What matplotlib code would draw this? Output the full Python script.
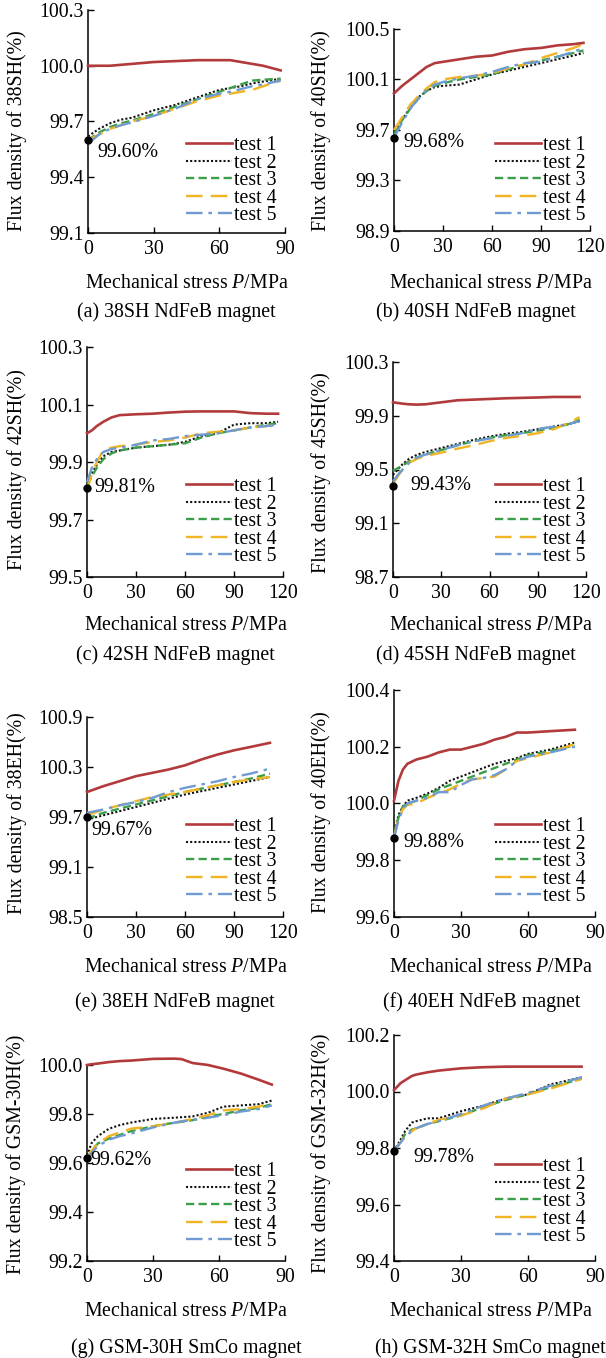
#!/usr/bin/env python3
"""Flux density vs mechanical stress for eight magnet grades."""
import matplotlib
matplotlib.use("Agg")
import matplotlib.pyplot as plt

plt.rcParams["font.family"] = ["Liberation Serif", "DejaVu Serif"]
plt.rcParams["mathtext.fontset"] = "custom"
plt.rcParams["mathtext.rm"] = "Liberation Serif"
plt.rcParams["mathtext.it"] = "Liberation Serif:italic"

test_labels = ["test 1", "test 2", "test 3", "test 4", "test 5"]
test_colors = ["#b23a3c", "#111111", "#3c9e48", "#f0b424", "#6f9bd2"]
test_styles = ["-", (0, (1, 1)), (0, (3.5, 1.8)), (0, (7, 3.5)), (0, (7, 2.5, 1.5, 2.5))]
test_widths = [1.9, 1.5, 1.7, 1.7, 1.7]

# (a) 38SH
x_38sh = [0, 5, 10, 15, 20, 30, 40, 50, 60, 65, 70, 75, 80, 88]
y_38sh_t1 = [100.0, 100.0, 100.0, 100.005, 100.01, 100.02, 100.025, 100.03, 100.03, 100.03, 100.02, 100.01, 100.0, 99.975]
y_38sh_t2 = [99.62, 99.66, 99.69, 99.71, 99.72, 99.76, 99.79, 99.83, 99.87, 99.88, 99.89, 99.905, 99.915, 99.93]
y_38sh_t3 = [99.60, 99.64, 99.67, 99.69, 99.705, 99.74, 99.78, 99.82, 99.86, 99.88, 99.90, 99.92, 99.925, 99.93]
y_38sh_t4 = [99.60, 99.63, 99.66, 99.68, 99.70, 99.73, 99.77, 99.81, 99.84, 99.85, 99.86, 99.87, 99.89, 99.92]
y_38sh_t5 = [99.58, 99.63, 99.66, 99.68, 99.695, 99.73, 99.77, 99.82, 99.85, 99.86, 99.875, 99.89, 99.90, 99.92]

# (b) 40SH
x_40sh = [0, 5, 10, 15, 20, 25, 30, 40, 50, 60, 70, 80, 90, 100, 110, 116]
y_40sh_t1 = [99.99, 100.05, 100.10, 100.15, 100.20, 100.23, 100.24, 100.26, 100.28, 100.29, 100.32, 100.34, 100.35, 100.37, 100.38, 100.39]
y_40sh_t2 = [99.66, 99.78, 99.88, 99.96, 100.01, 100.04, 100.05, 100.06, 100.10, 100.14, 100.17, 100.20, 100.23, 100.26, 100.29, 100.31]
y_40sh_t3 = [99.66, 99.78, 99.87, 99.95, 100.01, 100.05, 100.07, 100.10, 100.12, 100.14, 100.18, 100.22, 100.25, 100.28, 100.31, 100.33]
y_40sh_t4 = [99.70, 99.80, 99.90, 99.97, 100.03, 100.08, 100.10, 100.12, 100.13, 100.15, 100.19, 100.22, 100.27, 100.31, 100.35, 100.38]
y_40sh_t5 = [99.64, 99.76, 99.87, 99.95, 100.02, 100.06, 100.08, 100.11, 100.13, 100.16, 100.20, 100.23, 100.24, 100.28, 100.32, 100.35]

# (c) 42SH
x_42sh = [0, 3, 6, 10, 15, 20, 30, 40, 50, 60, 70, 80, 90, 100, 110, 117]
y_42sh_t1 = [100.0, 100.01, 100.025, 100.04, 100.055, 100.063, 100.066, 100.068, 100.072, 100.075, 100.076, 100.076, 100.076, 100.07, 100.068, 100.068]
y_42sh_t2 = [99.82, 99.86, 99.89, 99.92, 99.935, 99.94, 99.95, 99.955, 99.96, 99.97, 99.99, 100.0, 100.03, 100.035, 100.035, 100.04]
y_42sh_t3 = [99.82, 99.85, 99.88, 99.91, 99.93, 99.94, 99.95, 99.955, 99.96, 99.965, 99.985, 100.0, 100.01, 100.02, 100.03, 100.035]
y_42sh_t4 = [99.80, 99.86, 99.90, 99.94, 99.95, 99.955, 99.96, 99.97, 99.975, 99.985, 100.0, 100.005, 100.01, 100.02, 100.025, 100.03]
y_42sh_t5 = [99.83, 99.88, 99.91, 99.935, 99.945, 99.95, 99.96, 99.975, 99.98, 99.99, 99.995, 100.0, 100.01, 100.02, 100.025, 100.03]

# (d) 45SH
x_45sh = [0, 3, 6, 10, 15, 20, 30, 40, 50, 60, 70, 80, 90, 100, 110, 116]
y_45sh_t1 = [100.0, 99.995, 99.99, 99.985, 99.983, 99.985, 100.0, 100.015, 100.02, 100.025, 100.03, 100.033, 100.036, 100.04, 100.04, 100.04]
y_45sh_t2 = [99.46, 99.50, 99.54, 99.58, 99.61, 99.63, 99.66, 99.69, 99.72, 99.745, 99.765, 99.78, 99.80, 99.82, 99.84, 99.86]
y_45sh_t3 = [99.49, 99.51, 99.53, 99.56, 99.59, 99.61, 99.645, 99.68, 99.71, 99.735, 99.755, 99.77, 99.79, 99.81, 99.84, 99.87]
y_45sh_t4 = [99.39, 99.45, 99.50, 99.55, 99.58, 99.60, 99.625, 99.655, 99.68, 99.71, 99.735, 99.75, 99.77, 99.80, 99.85, 99.89]
y_45sh_t5 = [99.41, 99.46, 99.50, 99.55, 99.59, 99.61, 99.645, 99.68, 99.71, 99.73, 99.75, 99.77, 99.80, 99.82, 99.84, 99.86]

# (e) 38EH
x_38eh = [0, 10, 20, 30, 40, 50, 60, 70, 80, 90, 100, 112]
y_38eh_t1 = [100.0, 100.07, 100.13, 100.19, 100.23, 100.27, 100.32, 100.39, 100.45, 100.50, 100.54, 100.59]
y_38eh_t2 = [99.67, 99.72, 99.77, 99.82, 99.87, 99.92, 99.97, 100.01, 100.05, 100.09, 100.13, 100.18]
y_38eh_t3 = [99.68, 99.75, 99.80, 99.85, 99.90, 99.95, 100.0, 100.04, 100.08, 100.12, 100.16, 100.22]
y_38eh_t4 = [99.72, 99.79, 99.84, 99.89, 99.94, 99.97, 100.0, 100.04, 100.08, 100.12, 100.15, 100.18]
y_38eh_t5 = [99.75, 99.79, 99.84, 99.88, 99.93, 100.0, 100.05, 100.09, 100.13, 100.18, 100.22, 100.28]

# (f) 40EH
x_40eh = [0, 2, 4, 6, 10, 15, 20, 25, 30, 35, 40, 45, 50, 55, 60, 70, 81]
y_40eh_t1 = [100.01, 100.08, 100.12, 100.14, 100.155, 100.165, 100.18, 100.19, 100.19, 100.20, 100.21, 100.225, 100.235, 100.25, 100.25, 100.255, 100.26]
y_40eh_t2 = [99.89, 99.96, 99.99, 100.01, 100.02, 100.035, 100.055, 100.08, 100.095, 100.11, 100.125, 100.14, 100.15, 100.16, 100.175, 100.19, 100.215]
y_40eh_t3 = [99.89, 99.95, 99.99, 100.0, 100.01, 100.03, 100.05, 100.065, 100.08, 100.095, 100.11, 100.125, 100.14, 100.155, 100.17, 100.185, 100.205]
y_40eh_t4 = [99.88, 99.95, 99.98, 99.995, 100.0, 100.02, 100.035, 100.05, 100.07, 100.085, 100.09, 100.095, 100.12, 100.15, 100.16, 100.18, 100.21]
y_40eh_t5 = [99.88, 99.94, 99.98, 100.0, 100.01, 100.02, 100.04, 100.04, 100.065, 100.085, 100.09, 100.10, 100.12, 100.15, 100.165, 100.18, 100.20]

# (g) GSM-30H
x_30h = [0, 2, 5, 10, 15, 20, 30, 40, 43, 48, 55, 62, 70, 78, 84]
y_30h_t1 = [100.0, 100.003, 100.006, 100.012, 100.016, 100.018, 100.025, 100.026, 100.024, 100.008, 100.0, 99.985, 99.965, 99.94, 99.92]
y_30h_t2 = [99.63, 99.68, 99.71, 99.74, 99.755, 99.765, 99.78, 99.785, 99.787, 99.79, 99.805, 99.83, 99.835, 99.84, 99.855]
y_30h_t3 = [99.62, 99.65, 99.68, 99.70, 99.715, 99.73, 99.75, 99.765, 99.768, 99.775, 99.79, 99.80, 99.815, 99.825, 99.84]
y_30h_t4 = [99.62, 99.65, 99.68, 99.71, 99.725, 99.74, 99.75, 99.765, 99.77, 99.78, 99.795, 99.815, 99.82, 99.83, 99.845]
y_30h_t5 = [99.61, 99.64, 99.67, 99.695, 99.71, 99.72, 99.745, 99.765, 99.77, 99.775, 99.785, 99.795, 99.81, 99.82, 99.835]

# (h) GSM-32H
x_32h = [0, 3, 5, 8, 10, 15, 20, 30, 40, 50, 60, 70, 84]
y_32h_t1 = [100.005, 100.03, 100.04, 100.055, 100.06, 100.068, 100.074, 100.082, 100.086, 100.088, 100.088, 100.088, 100.088]
y_32h_t2 = [99.79, 99.83, 99.86, 99.89, 99.895, 99.905, 99.905, 99.93, 99.95, 99.975, 99.99, 100.025, 100.05]
y_32h_t3 = [99.79, 99.82, 99.85, 99.865, 99.87, 99.885, 99.895, 99.915, 99.945, 99.97, 99.99, 100.015, 100.045]
y_32h_t4 = [99.79, 99.82, 99.845, 99.86, 99.87, 99.885, 99.90, 99.915, 99.94, 99.975, 99.99, 100.01, 100.045]
y_32h_t5 = [99.79, 99.82, 99.84, 99.86, 99.87, 99.885, 99.895, 99.92, 99.95, 99.975, 99.995, 100.02, 100.05]

grades = ["38SH", "40SH", "42SH", "45SH", "38EH", "40EH", "GSM-30H", "GSM-32H"]
captions = ["(a) 38SH NdFeB magnet", "(b) 40SH NdFeB magnet", "(c) 42SH NdFeB magnet",
            "(d) 45SH NdFeB magnet", "(e) 38EH NdFeB magnet", "(f) 40EH NdFeB magnet",
            "(g) GSM-30H SmCo magnet", "(h) GSM-32H SmCo magnet"]
start_labels = ["99.60%", "99.68%", "99.81%", "99.43%", "99.67%", "99.88%", "99.62%", "99.78%"]
start_values = [99.60, 99.64, 99.81, 99.38, 99.70, 99.88, 99.62, 99.79]
y_ticks = [
    [99.1, 99.4, 99.7, 100.0, 100.3],
    [98.9, 99.3, 99.7, 100.1, 100.5],
    [99.5, 99.7, 99.9, 100.1, 100.3],
    [98.7, 99.1, 99.5, 99.9, 100.3],
    [98.5, 99.1, 99.7, 100.3, 100.9],
    [99.6, 99.8, 100.0, 100.2, 100.4],
    [99.2, 99.4, 99.6, 99.8, 100.0],
    [99.4, 99.6, 99.8, 100.0, 100.2],
]
x_ticks = [
    [0, 30, 60, 90], [0, 30, 60, 90, 120], [0, 30, 60, 90, 120], [0, 30, 60, 90, 120],
    [0, 30, 60, 90, 120], [0, 30, 60, 90], [0, 30, 60, 90], [0, 30, 60, 90],
]

series = [
    (x_38sh, [y_38sh_t1, y_38sh_t2, y_38sh_t3, y_38sh_t4, y_38sh_t5]),
    (x_40sh, [y_40sh_t1, y_40sh_t2, y_40sh_t3, y_40sh_t4, y_40sh_t5]),
    (x_42sh, [y_42sh_t1, y_42sh_t2, y_42sh_t3, y_42sh_t4, y_42sh_t5]),
    (x_45sh, [y_45sh_t1, y_45sh_t2, y_45sh_t3, y_45sh_t4, y_45sh_t5]),
    (x_38eh, [y_38eh_t1, y_38eh_t2, y_38eh_t3, y_38eh_t4, y_38eh_t5]),
    (x_40eh, [y_40eh_t1, y_40eh_t2, y_40eh_t3, y_40eh_t4, y_40eh_t5]),
    (x_30h, [y_30h_t1, y_30h_t2, y_30h_t3, y_30h_t4, y_30h_t5]),
    (x_32h, [y_32h_t1, y_32h_t2, y_32h_t3, y_32h_t4, y_32h_t5]),
]

# layout in pixels (left, top, right, bottom) of each axes box
W, H = 606, 1358
boxes = [(88, 10, 285, 233), (394, 29, 590, 231), (87, 347, 283, 577), (393, 362, 586, 577),
         (87, 717, 283, 917), (394, 690, 595, 917), (87, 1065, 285, 1261), (394, 1035, 595, 1261)]
ylabel_pos = [(17, 131), (321, 131), (17, 470), (321, 473), (17, 813), (321, 812), (16, 1154), (321, 1153)]
xlabel_pos = [(187, 283), (491, 283), (186, 626), (491, 626), (186, 967), (491, 967), (186, 1312), (491, 1312)]
caption_pos = [(176, 312), (476, 312), (175, 655), (476, 655), (175, 1002), (482, 1002), (186, 1348), (490, 1348)]
legend_pos = [(186, 136), (495, 136), (186, 477), (495, 477), (186, 817), (495, 817), (186, 1162), (495, 1157)]
note_offset = [(9, -12), (9, -5), (7, 0), (17, 0), (4, -13), (9, -5), (3, -2), (19, -7)]

FS = 14.3


def main() -> None:
    fig = plt.figure(figsize=(W / 100, H / 100), dpi=100)
    for i, (xs, ys) in enumerate(series):
        l, t, r, b = boxes[i]
        ax = fig.add_axes([l / W, 1 - b / H, (r - l) / W, (b - t) / H])
        for k, y in enumerate(ys):
            ax.plot(xs, y, color=test_colors[k], linestyle=test_styles[k], lw=test_widths[k],
                    label=test_labels[k], clip_on=False, zorder=3 + (k == 0))
        ax.plot([0], [start_values[i]], "o", color="black", ms=5, clip_on=False, zorder=6)
        ax.annotate(start_labels[i], (0, start_values[i]), xytext=note_offset[i],
                    textcoords="offset pixels", ha="left", va="center", fontsize=FS)

        ax.set_xlim(0, x_ticks[i][-1])
        ax.set_ylim(y_ticks[i][0], y_ticks[i][-1])
        ax.set_xticks(x_ticks[i])
        ax.set_yticks(y_ticks[i])
        ax.set_yticklabels([f"{v:.1f}" for v in y_ticks[i]])
        ax.tick_params(direction="in", length=4, width=1, labelsize=FS)
        ax.tick_params(axis="x", pad=5)
        ax.tick_params(axis="y", pad=3)
        for side in ("top", "right"):
            ax.spines[side].set_visible(False)
        for side in ("left", "bottom"):
            ax.spines[side].set_linewidth(1.1)

        lx, ly = legend_pos[i]
        ax.legend(loc="upper left", bbox_to_anchor=(lx / W, 1 - ly / H),
                  bbox_transform=fig.transFigure, frameon=False, fontsize=FS,
                  borderpad=0, borderaxespad=0, handlelength=2.3, handletextpad=0.1,
                  labelspacing=-0.07)

        fig.text(ylabel_pos[i][0] / W, 1 - ylabel_pos[i][1] / H, f"Flux density of {grades[i]}(%)",
                 rotation=90, ha="center", va="center", fontsize=FS)
        fig.text(xlabel_pos[i][0] / W, 1 - xlabel_pos[i][1] / H, "Mechanical stress $P$/MPa",
                 ha="center", va="center", fontsize=FS)
        fig.text(caption_pos[i][0] / W, 1 - caption_pos[i][1] / H, captions[i],
                 ha="center", va="center", fontsize=FS)

    fig.savefig("out.png", dpi=100)
    plt.close(fig)


if __name__ == "__main__":
    main()
